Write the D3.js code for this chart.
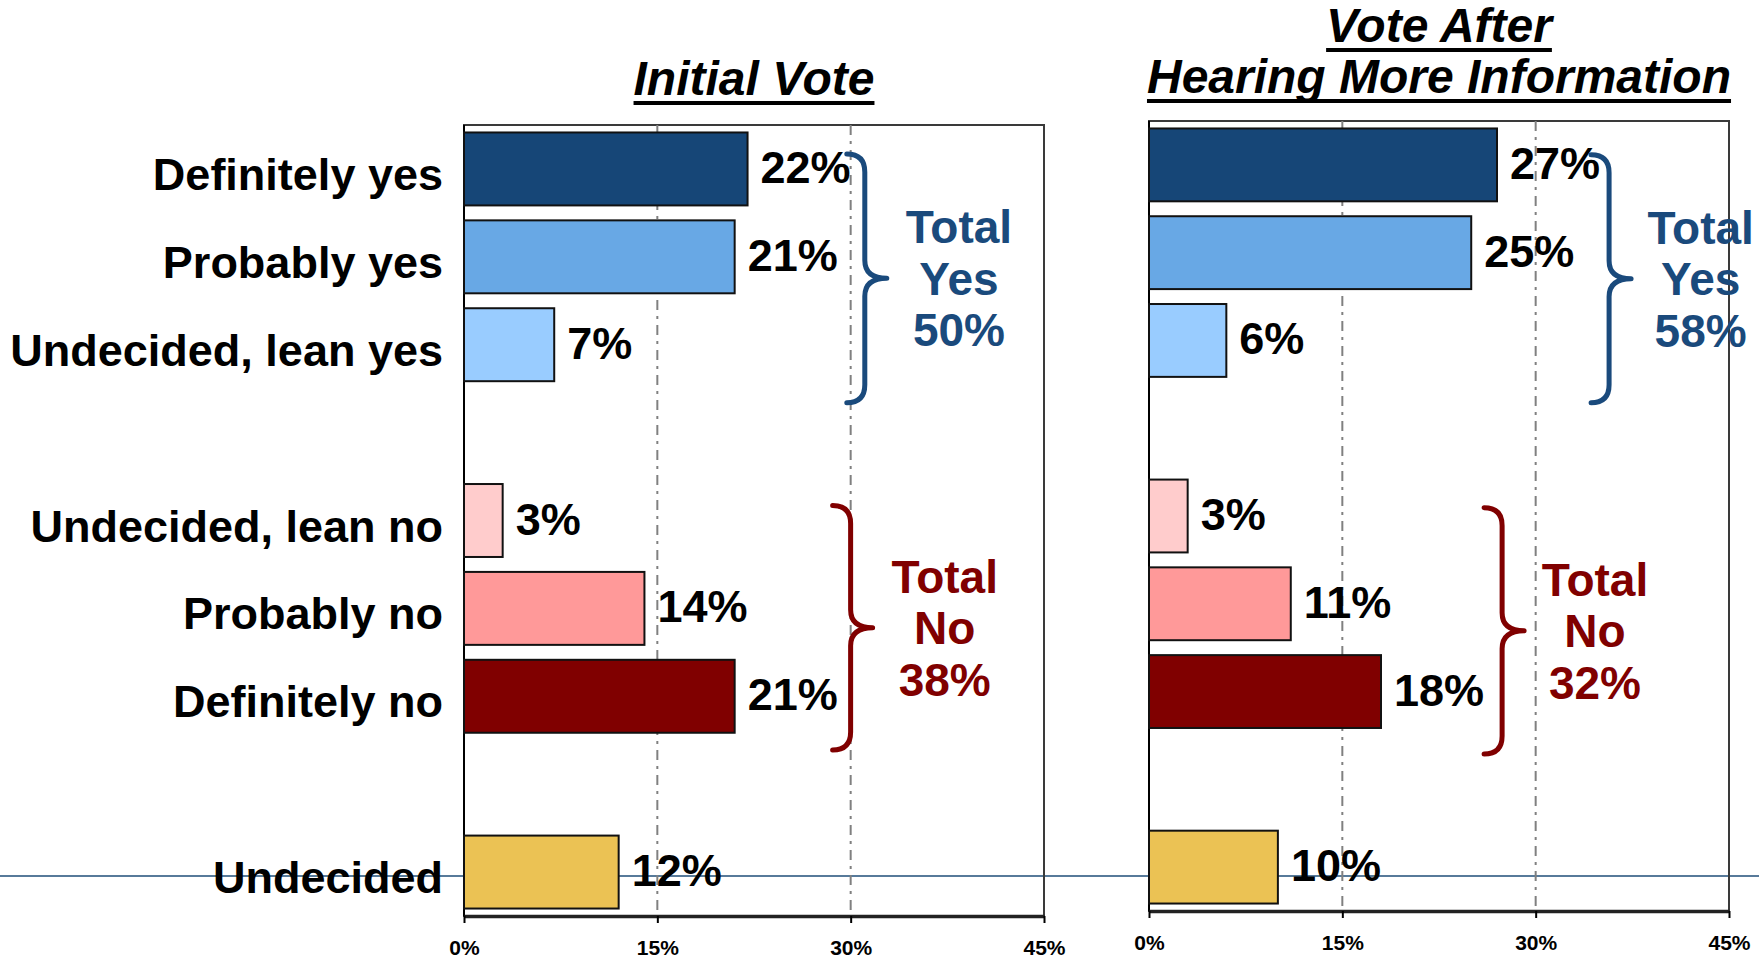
<!DOCTYPE html>
<html>
<head>
<meta charset="utf-8">
<script src="https://cdn.jsdelivr.net/npm/d3@7"></script>
<style>
    html, body { margin: 0; padding: 0; background: #fff; }
    svg { display: block; font-family: "Liberation Sans", Arial, sans-serif; }
</style>
</head>
<body>
<svg id="chart" width="1759" height="958"></svg>
<script>
//Datos
const groups = [
    ['Definitely yes', 'Probably yes', 'Undecided, lean yes'],
    ['Undecided, lean no', 'Probably no', 'Definitely no'],
    ['Undecided']
];
const categories = groups.flat();
const initialVote = [22, 21, 7, 3, 14, 21, 12];
const afterInfoVote = [27, 25, 6, 3, 11, 18, 10];
const totalNames = ['Yes', 'No'];
const initialTotals = [50, 38];
const afterInfoTotals = [58, 32];
const xTicks = [0, 15, 30, 45];
const titleInitial = ['Initial Vote'];
const titleAfter = ['Vote After', 'Hearing More Information'];

//Colores fijos
const BAR_COLORS = ['#164677', '#68a8e5', '#99ccff', '#ffcccc', '#ff9999', '#800000', '#ebc254'];
const COLOR_YES = '#1a4a7c',
    COLOR_NO = '#800000',
    FONT_SIZE = 45;

let svg = d3.select('#chart');

//Filas con huecos entre grupos
let rows = [];
groups.forEach(function(g, i) {
    if (i > 0) rows.push('gap' + i);
    rows = rows.concat(g);
});

let panels = [
    { title: titleInitial, titleBase: [95], values: initialVote, totals: initialTotals, labels: true,
      left: 464, right: 1044, top: 125, bottom: 916,
      braces: [{tip: 29.7, text: 38.4, top: -0.17, bottom: 0.66}, {tip: 28.6, text: 37.3, top: -0.17, bottom: 0.61}] },
    { title: titleAfter, titleBase: [42, 93], values: afterInfoVote, totals: afterInfoTotals, labels: false,
      left: 1149, right: 1729, top: 121, bottom: 911,
      braces: [{tip: 34.3, text: 42.8, top: -0.115, bottom: 0.71}, {tip: 26.0, text: 34.6, top: -0.095, bottom: 0.71}] }
];

let layers = panels.map(function() { return svg.append('g'); });

//Linea horizontal que cruza todo el gráfico (por debajo de las barras)
let lineLayer = svg.insert('g', ':first-child');

panels.forEach(function(p, pi) {
    let g = layers[pi];

    let x = d3.scaleLinear()
        .domain([0, d3.max(xTicks)])
        .range([p.left, p.right]);

    let y = d3.scaleBand()
        .domain(rows)
        .range([p.top, p.bottom])
        .paddingInner(0.17)
        .paddingOuter(0.085);

    //Titulo subrayado
    p.title.forEach(function(t, i) {
        let txt = g.append('text')
            .attr('x', (p.left + p.right) / 2)
            .attr('y', p.titleBase[i])
            .attr('text-anchor', 'middle')
            .style('font-size', '48px')
            .style('font-weight', 'bold')
            .style('font-style', 'italic')
            .text(t);
        let w = txt.node().getComputedTextLength();
        g.append('line')
            .attr('x1', (p.left + p.right) / 2 - w / 2)
            .attr('x2', (p.left + p.right) / 2 + w / 2)
            .attr('y1', p.titleBase[i] + 8)
            .attr('y2', p.titleBase[i] + 8)
            .attr('stroke', '#000')
            .attr('stroke-width', 4);
    });

    //Marco
    g.append('rect')
        .attr('x', p.left).attr('y', p.top)
        .attr('width', p.right - p.left)
        .attr('height', p.bottom - p.top)
        .attr('fill', 'none')
        .attr('stroke', '#3a3a3a')
        .attr('stroke-width', 2);

    //Lineas de referencia
    g.selectAll('.grid')
        .data(xTicks.slice(1, -1))
        .enter()
        .append('line')
        .attr('x1', function(d) { return x(d); })
        .attr('x2', function(d) { return x(d); })
        .attr('y1', p.top)
        .attr('y2', p.bottom)
        .attr('stroke', '#808080')
        .attr('stroke-width', 2)
        .attr('stroke-dasharray', '10,6,3,6');

    g.append('line')
        .attr('x1', p.left).attr('x2', p.left)
        .attr('y1', p.top).attr('y2', p.bottom)
        .attr('stroke', '#000')
        .attr('stroke-width', 2);

    //Eje X
    let xAxis = g.append('g')
        .attr('transform', 'translate(0,' + p.bottom + ')')
        .call(d3.axisBottom(x)
            .tickValues(xTicks)
            .tickSize(7)
            .tickSizeOuter(0)
            .tickPadding(17)
            .tickFormat(function(d) { return d + '%'; }));
    xAxis.select('.domain').attr('stroke', '#222').attr('stroke-width', 3.5);
    xAxis.selectAll('.tick line').attr('stroke', '#000').attr('stroke-width', 2);
    xAxis.selectAll('.tick text')
        .attr('fill', '#000')
        .style('font-family', '"Liberation Sans", Arial, sans-serif')
        .style('font-size', '21px')
        .style('font-weight', 'bold');

    //Barras
    let data = categories.map(function(c, i) { return {cat: c, value: p.values[i], color: BAR_COLORS[i]}; });

    g.selectAll('.bar')
        .data(data)
        .enter()
        .append('rect')
        .attr('class', 'bar')
        .attr('x', x(0))
        .attr('y', function(d) { return y(d.cat); })
        .attr('width', function(d) { return x(d.value) - x(0); })
        .attr('height', y.bandwidth())
        .attr('fill', function(d) { return d.color; })
        .attr('stroke', '#111')
        .attr('stroke-width', 2);

    //Etiquetas de valor
    g.selectAll('.value')
        .data(data)
        .enter()
        .append('text')
        .attr('x', function(d) { return x(d.value) + 13; })
        .attr('y', function(d) { return y(d.cat) + y.bandwidth() / 2 + 14; })
        .style('font-size', FONT_SIZE + 'px')
        .style('font-weight', 'bold')
        .text(function(d) { return d.value + '%'; });

    //Categorias (solo en el panel izquierdo)
    if (p.labels) {
        g.selectAll('.cat')
            .data(data)
            .enter()
            .append('text')
            .attr('x', p.left - 21)
            .attr('y', function(d) { return y(d.cat) + y.bandwidth() / 2 + 21; })
            .attr('text-anchor', 'end')
            .style('font-size', FONT_SIZE + 'px')
            .style('font-weight', 'bold')
            .text(function(d) { return d.cat; });
    }

    //Llaves y totales
    p.braces.forEach(function(b, i) {
        let color = i == 0 ? COLOR_YES : COLOR_NO;
        let grp = groups[i];
        let c1 = y(grp[0]) + y.bandwidth() / 2,
            c2 = y(grp[grp.length - 1]) + y.bandwidth() / 2;
        let y0 = c1 + b.top * y.step(),
            y1 = c2 + b.bottom * y.step(),
            ym = (y0 + y1) / 2;
        let x0 = x(b.tip), r = 18, w = 40;

        let path = d3.path();
        path.moveTo(x0, y0);
        path.quadraticCurveTo(x0 + r, y0, x0 + r, y0 + r);
        path.lineTo(x0 + r, ym - r);
        path.quadraticCurveTo(x0 + r, ym, x0 + w, ym);
        path.quadraticCurveTo(x0 + r, ym, x0 + r, ym + r);
        path.lineTo(x0 + r, y1 - r);
        path.quadraticCurveTo(x0 + r, y1, x0, y1);

        g.append('path')
            .attr('d', path.toString())
            .attr('fill', 'none')
            .attr('stroke', color)
            .attr('stroke-width', 5)
            .attr('stroke-linecap', 'round')
            .attr('stroke-linejoin', 'round');

        let lines = ['Total', totalNames[i], p.totals[i] + '%'];
        g.selectAll('.total' + i)
            .data(lines)
            .enter()
            .append('text')
            .attr('x', x(b.text))
            .attr('y', function(d, j) { return ym + 16.5 + (j - 1) * 51.5; })
            .attr('text-anchor', 'middle')
            .attr('fill', color)
            .style('font-size', '46px')
            .style('font-weight', 'bold')
            .text(function(d) { return d; });
    });
});

lineLayer.append('line')
    .attr('x1', 0).attr('x2', 1759)
    .attr('y1', 876).attr('y2', 876)
    .attr('stroke', '#1f4e79')
    .attr('stroke-width', 1.5);
</script>
</body>
</html>
